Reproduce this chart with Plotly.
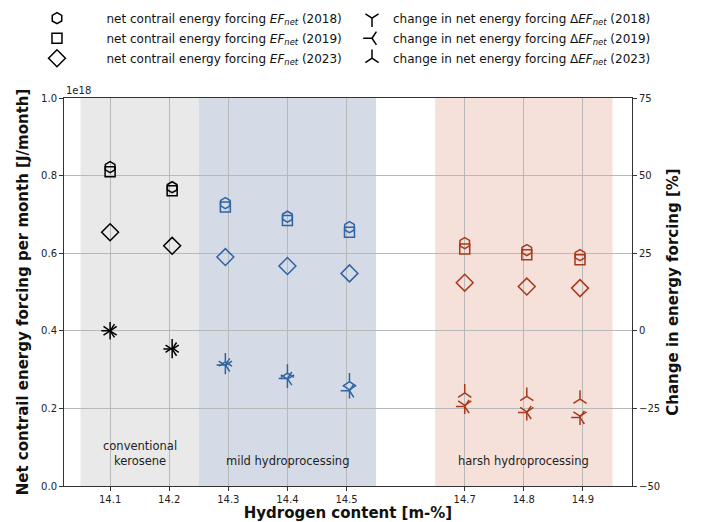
import plotly.graph_objects as go

# ---------------- data ----------------
hydrogen = [14.10, 14.205, 14.295, 14.40, 14.505, 14.70, 14.805, 14.895]
point_colors = ["#000000", "#000000", "#2e64a3", "#2e64a3", "#2e64a3",
                "#a63a1c", "#a63a1c", "#a63a1c"]

# net contrail energy forcing [1e18 J/month]
ef_2018 = [0.822, 0.770, 0.729, 0.694, 0.667, 0.626, 0.608, 0.595]
ef_2019 = [0.810, 0.761, 0.719, 0.684, 0.654, 0.611, 0.596, 0.583]
ef_2023 = [0.654, 0.619, 0.590, 0.567, 0.548, 0.524, 0.514, 0.510]

# change in net energy forcing [%]
d_2018 = [0.0, -6.0, -11.2, -15.6, -19.0, -24.0, -26.1, -27.5]
d_2019 = [0.0, -5.9, -11.0, -15.4, -19.3, -24.4, -26.3, -27.9]
d_2023 = [0.0, -5.5, -10.0, -13.6, -16.4, -20.0, -21.1, -22.0]

x_tickvals = [14.1, 14.2, 14.3, 14.4, 14.5, 14.7, 14.8, 14.9]
x_ticktext = ["14.1", "14.2", "14.3", "14.4", "14.5", "14.7", "14.8", "14.9"]

region_x0 = [14.05, 14.25, 14.65]
region_x1 = [14.25, 14.55, 14.95]
region_labels = ["conventional<br>kerosene", "mild hydroprocessing", "harsh hydroprocessing"]
region_colors = ["rgb(233,233,233)", "rgb(213,219,230)", "rgb(245,224,218)"]

FONT = "DejaVu Sans"

fig = go.Figure()

ef_series = [
    ("net contrail energy forcing <i>EF<sub>net</sub></i> (2018)", ef_2018, "hexagon-open", 11),
    ("net contrail energy forcing <i>EF<sub>net</sub></i> (2019)", ef_2019, "square-open", 10),
    ("net contrail energy forcing <i>EF<sub>net</sub></i> (2023)", ef_2023, "diamond-open", 13),
]
d_series = [
    ("change in net energy forcing Δ<i>EF<sub>net</sub></i> (2018)", d_2018, "y-down-open", 11),
    ("change in net energy forcing Δ<i>EF<sub>net</sub></i> (2019)", d_2019, "y-left-open", 11),
    ("change in net energy forcing Δ<i>EF<sub>net</sub></i> (2023)", d_2023, "y-up-open", 11),
]

# data traces
for name, vals, sym, sz in ef_series:
    fig.add_trace(go.Scatter(
        x=hydrogen, y=vals, mode="markers", showlegend=False, yaxis="y",
        marker=dict(symbol=sym, size=sz, color=point_colors,
                    line=dict(color=point_colors, width=1.5))))
for name, vals, sym, sz in d_series:
    fig.add_trace(go.Scatter(
        x=hydrogen, y=vals, mode="markers", showlegend=False, yaxis="y2",
        marker=dict(symbol=sym, size=sz, color=point_colors,
                    line=dict(color=point_colors, width=1.5))))

# legend entries: two legends, one per column
for i, (name, _, sym, sz) in enumerate(ef_series):
    fig.add_trace(go.Scatter(x=[None], y=[None], mode="markers", name=name, yaxis="y",
                             legend="legend", legendgroup="a%d" % i,
                             marker=dict(symbol=sym, size=sz, color="black",
                                         line=dict(color="black", width=1.5))))
for i, (name, _, sym, sz) in enumerate(d_series):
    fig.add_trace(go.Scatter(x=[None], y=[None], mode="markers", name=name, yaxis="y2",
                             legend="legend2", legendgroup="b%d" % i,
                             marker=dict(symbol=sym, size=sz, color="black",
                                         line=dict(color="black", width=1.5))))

shapes = []
annotations = []
for x0, x1, lab, col in zip(region_x0, region_x1, region_labels, region_colors):
    shapes.append(dict(type="rect", xref="x", yref="paper", x0=x0, x1=x1, y0=0, y1=1,
                       fillcolor=col, line=dict(width=0), layer="below"))
    annotations.append(dict(x=(x0 + x1) / 2, xref="x", y=0.04, yref="paper",
                            yanchor="bottom", xanchor="center", text=lab, showarrow=False,
                            font=dict(family=FONT, size=11.5, color="#222")))
annotations.append(dict(x=0, xref="paper", y=1.0, yref="paper", xanchor="left",
                        yanchor="bottom", text="1e18", showarrow=False,
                        font=dict(family=FONT, size=10, color="#222")))

axis_common = dict(showline=True, linecolor="#333", linewidth=1, ticks="outside",
                   ticklen=4, tickcolor="#333", automargin=False,
                   tickfont=dict(family=FONT, size=10, color="#222"))

legend_common = dict(orientation="v", xanchor="left", yanchor="top",
                     font=dict(family=FONT, size=12, color="#111"),
                     bgcolor="rgba(0,0,0,0)", tracegroupgap=1)

fig.update_layout(
    width=702, height=522,
    margin=dict(l=64, r=70, t=98, b=36, autoexpand=False),
    paper_bgcolor="white", plot_bgcolor="white",
    font=dict(family=FONT, color="#111"),
    shapes=shapes, annotations=annotations,
    xaxis=dict(range=[14.022, 14.983], tickvals=x_tickvals, ticktext=x_ticktext,
               showgrid=True, gridcolor="#b8b8b8", gridwidth=1, mirror=True, zeroline=False,
               title=dict(text="Hydrogen content [m-%]", standoff=4,
                          font=dict(family=FONT, size=15, weight="bold", color="#111")),
               **axis_common),
    yaxis=dict(range=[0, 1.0], tickvals=[0, 0.2, 0.4, 0.6, 0.8, 1.0], tickformat=".1f",
               showgrid=True, gridcolor="#b8b8b8", gridwidth=1, zeroline=False,
               title=dict(text="Net contrail energy forcing per month [J/month]", standoff=8,
                          font=dict(family=FONT, size=15, weight="bold", color="#111")),
               **axis_common),
    yaxis2=dict(range=[-50, 75], tickvals=[-50, -25, 0, 25, 50, 75], overlaying="y",
                side="right", showgrid=False, zeroline=False,
                title=dict(text="Change in energy forcing [%]", standoff=8,
                           font=dict(family=FONT, size=15, weight="bold", color="#111")),
                **axis_common),
    legend=dict(x=-0.0995, y=1.243, itemwidth=89, **legend_common),
    legend2=dict(x=0.5053, y=1.243, itemwidth=32, **legend_common),
)

fig.write_html("out.html", config={"displayModeBar": False},
               post_script="document.body.style.margin='0';")
